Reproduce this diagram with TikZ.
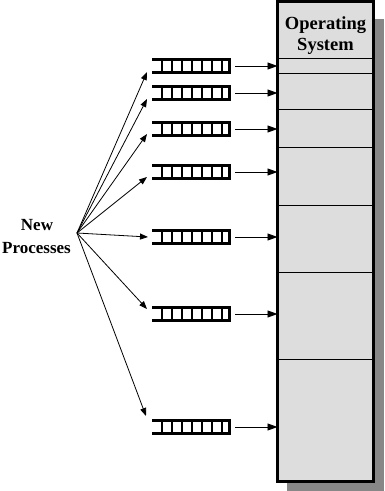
\documentclass[tikz,border=0pt]{standalone}
\usepackage{fontspec}
\setmainfont{Liberation Serif}
\usetikzlibrary{arrows.meta}
\definecolor{osfill}{RGB}{221,221,221}
\definecolor{shadowgray}{RGB}{135,135,135}
\begin{document}
\begin{tikzpicture}[x=1pt,y=-1pt,
  osbox/.style={draw=black, fill=osfill, line width=3pt, inner sep=0pt, outer sep=0pt, anchor=north west},
  ostext/.style={font=\bfseries\fontsize{18.5}{21}\selectfont, anchor=base, inner sep=0pt},
  srctext/.style={font=\bfseries\fontsize{17}{20}\selectfont, anchor=base, inner sep=0pt},
  partline/.style={line width=1pt},
  qedge/.style={line width=2.5pt},
  qcell/.style={line width=1.2pt},
  toos/.style={line width=0.9pt, -{Triangle[length=10pt,width=7pt]}},
  fan/.style={line width=0.8pt, -{Triangle[length=8pt,width=6pt]}}
]
\useasboundingbox (0,0) rectangle (384,491);
% shadow
\fill[shadowgray] (287,19) rectangle (384,491);
% operating system box
\node[osbox, minimum width=95.5pt, minimum height=479.5pt] (os) at (277.5,1.5) {};
\node[ostext] (ostitle1) at (325.5,29) {Operating};
\node[ostext] (ostitle2) at (325.5,50) {System};
\foreach \py in {58.5,73,109.5,147,205.5,272.5,359}{
  \draw[partline] (277.5,\py) -- (373,\py);
}
% source
\node[srctext] (new) at (37,230) {New};
\node[srctext] (proc) at (36.5,253) {Processes};
\coordinate (src) at (77,233);
% queues
\foreach \i/\qy/\tx/\ty in {1/66/147/72, 2/93/147/99, 3/129/147/134, 4/172/147/177, 5/237/148/237, 6/314/147/309, 7/427/146/416}{
  \draw[qedge] (152,\qy-6.5) -- (230.75,\qy-6.5);
  \draw[qedge] (152,\qy+6.5) -- (230.75,\qy+6.5);
  \draw[qedge] (229.5,\qy-7.75) -- (229.5,\qy+7.75);
  \foreach \cx in {162,172,...,222}{
    \draw[qcell] (\cx,\qy-6.5) -- (\cx,\qy+6.5);
  }
  \coordinate (qR\i) at (235,\qy);
  \coordinate (qT\i) at (\tx,\ty);
  \draw[toos] (qR\i) -- (qR\i -| os.west);
  \draw[fan] (src) -- (qT\i);
}
\end{tikzpicture}
\end{document}
